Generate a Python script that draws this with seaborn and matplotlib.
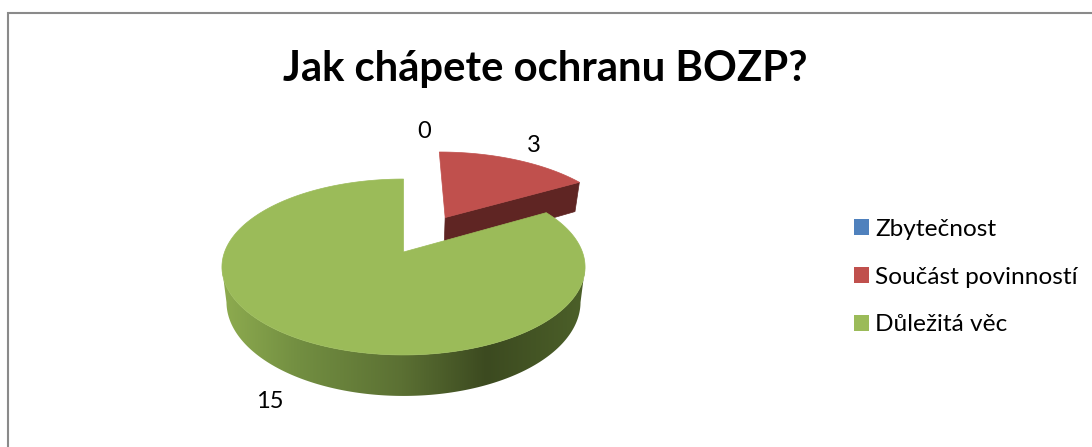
# import libraries
import numpy as np
import matplotlib
matplotlib.use("Agg")
import matplotlib.pyplot as plt
import seaborn as sns
from matplotlib.colors import LinearSegmentedColormap
from matplotlib.patches import Patch, Polygon

# data
categories = ["Zbytečnost", "Součást povinností", "Důležitá věc"]
values = [0, 3, 15]
title = "Jak chápete ochranu BOZP?"

# styling
explode = [0, 0.5, 0]
radius = [1, 1.03, 1]
colors = sns.color_palette(["#4F81BD", "#C0504D", "#9BBB59"])
side_colors = ["#2a4060", "#5F2523", "#4a5c28"]
ramp = LinearSegmentedColormap.from_list(
    "side", [(0, "#8FAD50"), (0.22, "#728E41"), (0.5, "#5B7033"), (0.73, "#3C4A20"), (1, "#4C6029")])

sns.set_theme(style="white")
plt.rcParams["font.family"] = ["Lato", "Open Sans", "DejaVu Sans"]

fig = plt.figure(figsize=(10.92, 4.47), dpi=100)
ax = fig.add_axes([0, 0, 1, 1])
ax.set_xlim(0, 1092)
ax.set_ylim(447, 0)
ax.axis("off")

# chart frame, only top and left show
ax.plot([7.5, 7.5, 1092], [447, 13, 13], color="#8a8a8a", lw=1.5, solid_joinstyle="miter")


# tilted pie: unit circle coordinates to screen, z=1 is the bottom of the disc
def project(u, v, z=0):
    w = 1 + 0.1705 * v
    s = 1 - 0.025 * z
    return 403.5 + 178.9 * s * u / w, 252 + (-85.4 * v + 34 * z) / w


def arc(a0, a1, r=1, off=(0, 0), z=0):
    t = np.radians(np.linspace(a0, a1, 200))
    return project(off[0] + r * np.sin(t), off[1] + r * np.cos(t), z)


def quad(p0, p1):
    # side wall along a straight edge of a slice
    x0, y0 = project(*p0)
    x1, y1 = project(*p1)
    x2, y2 = project(*p1, 1)
    x3, y3 = project(*p0, 1)
    return [[x0, y0], [x1, y1], [x2, y2], [x3, y3]]


angles = np.cumsum([0] + values) / sum(values) * 360

for i in range(len(values)):
    a0, a1 = angles[i], angles[i + 1]
    if values[i] == 0:
        continue
    mid = np.radians((a0 + a1) / 2)
    off = (explode[i] * np.sin(mid), explode[i] * np.cos(mid))
    r = radius[i]

    # straight wall of the pulled out slice
    if explode[i] > 0:
        rim = (off[0] + r * np.sin(np.radians(a1)), off[1] + r * np.cos(np.radians(a1)))
        ax.add_patch(Polygon(quad(off, rim), fc=side_colors[i], ec=side_colors[i], lw=0.5, zorder=2 + i))

    # round wall, only the part that faces the viewer
    lo, hi = max(a0, 100), min(a1, 260)
    if hi > lo:
        xt, yt = arc(lo, hi, r, off)
        xb, yb = arc(lo, hi, r, off, 1)
        wall = Polygon(np.c_[np.r_[xt, xb[::-1]], np.r_[yt, yb[::-1]]], fc="none", ec="none",
                       transform=ax.transData)
        ax.add_patch(wall)
        img = ax.imshow(np.linspace(0, 1, 256)[None, :], cmap=ramp, aspect="auto",
                        extent=(xt.min() - 4, xt.max(), yb.max() + 2, yt.min() - 2), zorder=2 + i)
        img.set_clip_path(wall)

    # top face
    xs, ys = arc(a0, a1, r, off)
    cx, cy = project(*off)
    ax.add_patch(Polygon(np.c_[np.r_[cx, xs], np.r_[cy, ys]], fc=colors[i], ec=colors[i], lw=0.5, zorder=3 + i))

ax.set_xlim(0, 1092)
ax.set_ylim(447, 0)

# value labels
label_x = [424, 534, 270]
label_y = [131, 146, 402]
for v, x, y in zip(values, label_x, label_y):
    ax.text(x, y, str(v), fontsize=17, color="black", ha="center", va="center", zorder=10)

ax.text(545, 69.5, title, fontsize=30.2, fontweight="bold", color="black", ha="center", va="center")

handles = [Patch(fc=c, ec="none") for c in colors]
ax.legend(handles, categories, loc="center left", bbox_to_anchor=(854 / 1092, 1 - 277 / 447),
          frameon=False, fontsize=17.6, labelcolor="black", handlelength=0.61, handleheight=0.61,
          handletextpad=0.25, labelspacing=1.1, borderpad=0, borderaxespad=0)

fig.savefig("out.png", dpi=100)
